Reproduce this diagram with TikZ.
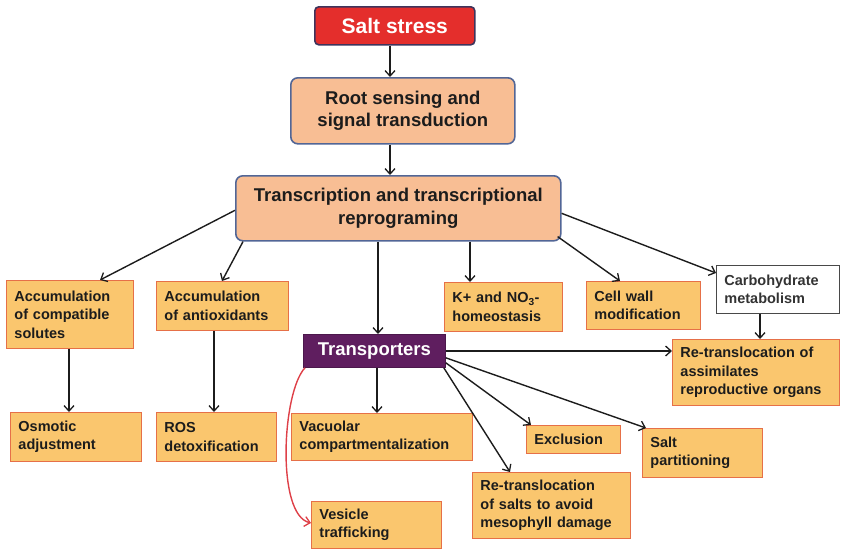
\documentclass[tikz,border=0pt]{standalone}
\usepackage{fontspec}
\setmainfont{Liberation Sans}
\usetikzlibrary{arrows.meta,calc}
\definecolor{boxfill}{RGB}{250,198,110}
\definecolor{boxline}{RGB}{230,112,72}
\definecolor{peach}{RGB}{248,190,148}
\definecolor{peachline}{RGB}{82,102,150}
\definecolor{saltred}{RGB}{228,46,44}
\definecolor{saltline}{RGB}{62,52,92}
\definecolor{purp}{RGB}{95,30,95}
\definecolor{arrowred}{RGB}{222,64,72}
\definecolor{inkdark}{RGB}{28,28,28}
\begin{document}
\begin{tikzpicture}[x=1pt,y=-1pt,
  box/.style={draw=boxline, fill=boxfill, line width=0.9pt, inner xsep=8pt, inner ysep=3pt,
    anchor=north west, align=left, text=inkdark,
    font=\fontsize{14.5}{18.5}\selectfont\bfseries},
  whitebox/.style={box, draw=inkdark!80, fill=white, text=inkdark!90, line width=0.8pt},
  bigbox/.style={draw=peachline, fill=peach, line width=1.6pt, rounded corners=7pt,
    anchor=north west, align=center, text=inkdark,
    font=\fontsize{18.5}{22.5}\selectfont\bfseries},
  arr/.style={draw=inkdark, line width=1.4pt, -{Straight Barb[length=5.5pt,width=10pt,line width=1.3pt]}},
  redarr/.style={draw=arrowred, line width=1.4pt, -{Straight Barb[length=5.5pt,width=10pt,line width=1.3pt]}}
]
\useasboundingbox (0,0) rectangle (842,550);

% top chain
\node[bigbox, draw=saltline, fill=saltred, text=white, rounded corners=4pt, line width=1.6pt,
  minimum width=160pt, minimum height=38pt, font=\fontsize{21}{24}\selectfont\bfseries]
  (salt) at (314,6) {Salt stress};
\node[bigbox, minimum width=224pt, minimum height=66pt] (root) at (290,77)
  {Root sensing and\\signal transduction};
\node[bigbox, minimum width=325pt, minimum height=65pt] (trans) at (235,175)
  {Transcription and transcriptional\\reprograming};

% second row
\node[box, text width=111pt, minimum height=68pt] (acc1) at (6,280)
  {Accumulation\\of compatible\\solutes};
\node[box, text width=116pt, minimum height=49pt] (acc2) at (156,281)
  {Accumulation\\of antioxidants};
\node[box, text width=102pt, minimum height=49pt] (kno) at (444,282)
  {K+ and NO\textsubscript{3}-\\homeostasis};
\node[box, text width=98pt, minimum height=48pt] (cell) at (586,281)
  {Cell wall\\modification};
\node[whitebox, text width=107pt, minimum height=48pt] (carb) at (716,265)
  {Carbohydrate\\metabolism};

% transporters
\node[fill=purp, draw=purp!80!black, line width=0.8pt, anchor=north west, text=white,
  minimum width=142pt, minimum height=33pt, font=\fontsize{18.5}{22}\selectfont\bfseries]
  (transp) at (303,334) {Transporters};
\node[box, text width=151pt, minimum height=66pt] (retr1) at (672,339)
  {Re-translocation of\\assimilates\\reproductive organs};

% third row
\node[box, text width=115pt, minimum height=49pt] (osm) at (10,412)
  {Osmotic\\adjustment};
\node[box, text width=104pt, minimum height=49pt] (ros) at (156,412)
  {ROS\\detoxification};
\node[box, text width=165pt, minimum height=47pt] (vac) at (291,413)
  {Vacuolar\\compartmentalization};
\node[box, text width=78pt, minimum height=28pt] (excl) at (526,425)
  {Exclusion};
\node[box, text width=104pt, minimum height=49pt] (saltp) at (642,428)
  {Salt\\partitioning};
\node[box, text width=142pt, minimum height=66pt] (retr2) at (472,472)
  {Re-translocation\\of salts to avoid\\mesophyll damage};
\node[box, text width=114pt, minimum height=47pt] (ves) at (311,501)
  {Vesicle\\trafficking};

% connectors
\draw[arr] ($(salt.south west)+(76,0)$) -- ($(root.north west)+(100,0)$);
\draw[arr] ($(root.south west)+(100,0)$) -- ($(trans.north west)+(155,0)$);
\draw[arr] ($(trans.west)+(0,2)$) -- ($(acc1.north west)+(94,0)$);
\draw[arr] ($(trans.south west)+(8,0)$) -- ($(acc2.north west)+(66,0)$);
\draw[arr] ($(trans.south west)+(143,0)$) -- ($(transp.north west)+(75,0)$);
\draw[arr] ($(trans.south west)+(235,0)$) -- ($(kno.north west)+(26,0)$);
\draw[arr] ($(trans.south east)+(-4,-5)$) -- ($(cell.north west)+(34,0)$);
\draw[arr] ($(trans.east)+(0,5)$) -- ($(carb.north west)+(0,8)$);
\draw[arr] ($(acc1.south west)+(63,0)$) -- ($(osm.north west)+(59,0)$);
\draw[arr] ($(acc2.south west)+(58,0)$) -- ($(ros.north west)+(58,0)$);
\draw[arr] ($(carb.south west)+(44,0)$) -- ($(retr1.north west)+(88,0)$);
\draw[arr] ($(transp.north east)+(0,17)$) -- ($(retr1.north west)+(0,12)$);
\draw[arr] ($(transp.south west)+(74,0)$) -- ($(vac.north west)+(86,0)$);
\draw[arr] ($(transp.south east)+(0,-5)$) -- ($(excl.north west)+(5,0)$);
\draw[arr] ($(transp.south east)+(0,-10)$) -- ($(saltp.north west)+(4,0)$);
\draw[arr] ($(transp.south east)+(-2,0)$) -- ($(retr2.north west)+(38,0)$);
\draw[redarr] ($(transp.south west)+(2,0)$) .. controls (282,392) and (276,515) .. ($(ves.west)+(0,-2)$);
\end{tikzpicture}
\end{document}
